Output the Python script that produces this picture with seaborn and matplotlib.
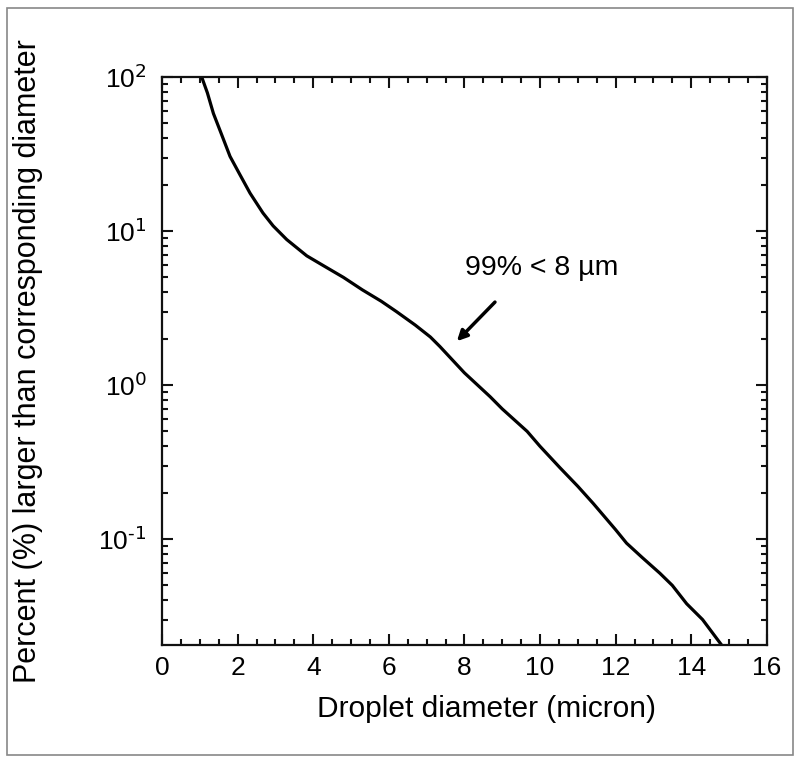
import matplotlib
matplotlib.use("Agg")
import matplotlib.pyplot as plt
import matplotlib.ticker as mticker
from matplotlib.patches import Rectangle
import numpy as np
import seaborn as sns
import pandas as pd

diameter = [1.05, 1.2, 1.36, 1.55, 1.8, 2.05, 2.33, 2.67, 2.94, 3.3, 3.83, 4.3,
            4.8, 5.3, 5.8, 6.2, 6.7, 7.1, 7.35, 8.0, 8.68, 9.0, 9.66, 10.0,
            10.53, 11.0, 11.41, 12.0, 12.29, 12.7, 13.17, 13.5, 13.88, 14.3, 14.85]
percent_larger = [100, 79, 58, 44, 30.5, 23.5, 17.6, 13.1, 10.8, 8.8, 6.9, 5.9,
                  5.0, 4.15, 3.5, 3.0, 2.45, 2.05, 1.78, 1.2, 0.84, 0.70, 0.50, 0.40,
                  0.29, 0.22, 0.17, 0.115, 0.094, 0.076, 0.060, 0.050, 0.038, 0.030, 0.0198]
x_ticks = [0, 2, 4, 6, 8, 10, 12, 14, 16]
annotation_text = "99% < 8 µm"

sns.set_style("ticks")
plt.rcParams["font.family"] = ["Liberation Sans", "DejaVu Sans"]
plt.rcParams["mathtext.default"] = "regular"
plt.rcParams["text.color"] = "black"
plt.rcParams["axes.labelcolor"] = "black"
plt.rcParams["xtick.color"] = "black"
plt.rcParams["ytick.color"] = "black"

df = pd.DataFrame({"d": diameter, "p": percent_larger})

fig = plt.figure(figsize=(8, 7.61), dpi=100)
ax = fig.add_axes([0.2025, 0.1524, 0.756, 0.7464])
sns.lineplot(data=df, x="d", y="p", ax=ax, color="black", linewidth=2.3,
             sort=False, estimator=None)
ax.set_yscale("log")
ax.set_xlim(0, 16)
ax.set_ylim(0.0205, 100)
ax.set_xticks(x_ticks)
ax.xaxis.set_minor_locator(mticker.MultipleLocator(0.5))
ax.yaxis.set_major_locator(mticker.LogLocator(base=10, numticks=10))
ax.yaxis.set_minor_locator(mticker.LogLocator(base=10, subs=range(2, 10), numticks=20))
ax.yaxis.set_minor_formatter(mticker.NullFormatter())
ax.yaxis.set_major_formatter(mticker.FuncFormatter(
    lambda v, p: r"$10^{\text{%d}}$" % int(round(np.log10(v)))))

ax.tick_params(which="both", direction="in", top=True, right=True, width=1.5,
               color="#111111", labelcolor="black")
ax.tick_params(which="major", length=8, labelsize=19)
ax.tick_params(axis="x", which="major", pad=8)
ax.tick_params(axis="y", which="major", pad=11)
ax.tick_params(which="minor", length=4.5)
for s in ax.spines.values():
    s.set_linewidth(1.6)
    s.set_color("#111111")

ax.set_xlabel("Droplet diameter (micron)", fontsize=21.5, va="center", color="black")
ax.xaxis.set_label_coords(0.536, -0.112)
ax.set_ylabel("Percent (%) larger than corresponding diameter", fontsize=22,
              va="center", color="black")
ax.yaxis.set_label_coords(-0.221, 0.5)

ax.annotate("", xy=(7.75, 1.87), xytext=(8.86, 3.56),
            arrowprops=dict(arrowstyle="-|>,head_length=0.6,head_width=0.3",
                            color="black", lw=2.5))
ax.text(10.05, 5.75, annotation_text, fontsize=20.5, ha="center", va="center",
        color="black")

fig.patches.append(Rectangle((7/800, 1 - 755/761), 786/800, 747/761,
                             transform=fig.transFigure, fill=False,
                             edgecolor="#888888", linewidth=1.2))

fig.savefig("out.png", dpi=100)
